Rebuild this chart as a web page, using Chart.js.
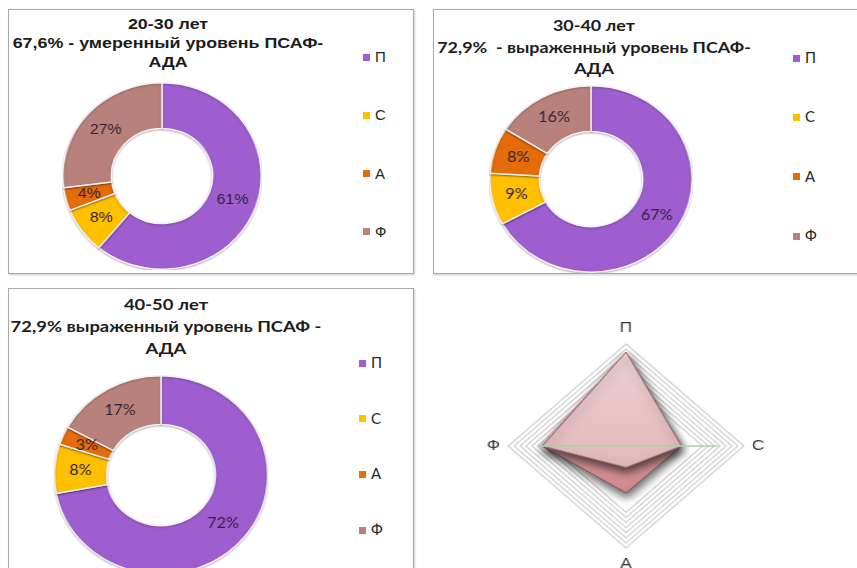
<!DOCTYPE html>
<html lang="ru">
<head>
<meta charset="utf-8">
<title>ПСАФ-АДА по возрастным группам</title>
<script src="https://cdn.jsdelivr.net/npm/chart.js@4.4.1/dist/chart.umd.min.js"></script>
<style>
    body {
        margin: 0;
        width: 857px;
        height: 568px;
        position: relative;
        overflow: hidden;
        background: #ffffff;
    }
    .panel {
        position: absolute;
        border: 1px solid #a8a8a8;
        box-shadow: 1px 1px 2px rgba(0, 0, 0, 0.2);
        background: #ffffff;
    }
    .title {
        position: absolute;
        text-align: center;
        font-weight: bold;
        color: #1c1c1c;
        white-space: nowrap;
        transform-origin: 50% 50%;
    }
    .legend {
        position: absolute;
        color: #262626;
    }
    .legend .item {
        position: absolute;
        left: 0;
        white-space: nowrap;
    }
    .legend .box {
        display: inline-block;
        width: 7px;
        height: 7px;
        margin-right: 5px;
        vertical-align: middle;
        position: relative;
        top: -1px;
    }
    .wrap {
        position: absolute;
        transform-origin: 50% 50%;
    }
    .arial { font-family: 'Liberation Sans', Arial, sans-serif; }
    .calibri { font-family: Lato, 'Open Sans', sans-serif; }
</style>
</head>
<body>

<!-- 20-30 -->
<div class="panel" style="left:8px; top:9px; width:404px; height:263px;"></div>
<div class="title arial" style="left:8px; top:14px; width:320px; font-size:15px; line-height:19px; transform:scaleX(1.19);">
    20-30 лет<br>67,6% - умеренный уровень ПСАФ-<br>АДА
</div>
<div class="wrap" style="left:68px; top:82px; width:188px; height:188px; transform:scaleX(1.064);">
    <canvas id="donut2030" width="188" height="188"></canvas>
</div>
<div class="legend arial" id="legend1" style="left:363px; top:48px; font-size:15px; line-height:18px;"></div>

<!-- 30-40 -->
<div class="panel" style="left:433px; top:9px; width:430px; height:263px;"></div>
<div class="title calibri" style="left:429px; top:14px; width:330px; font-size:16px; line-height:21.5px; transform:scaleX(1.12);">
    30-40 лет<br>72,9%&nbsp; - выраженный уровень ПСАФ-<br>АДА
</div>
<div class="wrap" style="left:497px; top:85px; width:188px; height:188px; transform:scaleX(1.085);">
    <canvas id="donut3040" width="188" height="188"></canvas>
</div>
<div class="legend calibri" id="legend2" style="left:793px; top:48px; font-size:15px; line-height:18px;"></div>

<!-- 40-50 -->
<div class="panel" style="left:8px; top:288px; width:404px; height:300px;"></div>
<div class="title calibri" style="left:1px; top:293px; width:330px; font-size:16px; line-height:22px; transform:scaleX(1.15);">
    40-50 лет<br>72,9% выраженный уровень ПСАФ -<br>АДА
</div>
<div class="wrap" style="left:61px; top:375px; width:200px; height:200px; transform:scaleX(1.075);">
    <canvas id="donut4050" width="200" height="200"></canvas>
</div>
<div class="legend calibri" id="legend3" style="left:359px; top:353px; font-size:15px; line-height:18px;"></div>

<!-- лепестковая -->
<div class="wrap" style="left:499px; top:319px; width:254px; height:254px; transform:scaleX(1.155);">
    <canvas id="radarAll" width="254" height="254"></canvas>
</div>

<script>
// ------------------------------------------
// Данные
// ------------------------------------------

const categories = ['П', 'С', 'А', 'Ф'];

// доли в процентах по группам
const values2030 = [61, 8, 4, 27];
const values3040 = [67, 9, 8, 16];
const values4050 = [72, 8, 3, 17];

// лепестковая диаграмма (шкала 0-100)
const radarAxes = ['П', 'С', 'А', 'Ф'];
const radarFront = [92, 47, 21, 71];
const radarBack = [92, 47, 46, 71];
const radarRim = [90, 45, 30, 74];
const radarLine = [0, 78, 0, 73];

// ------------------------------------------
// Стили
// ------------------------------------------

const sliceColors = ['#9e5ecf', '#ffc000', '#e46c0a', '#b9817b'];

// ------------------------------------------
// Плагины
// ------------------------------------------

// подписи процентов в центре сегментов
const sliceLabels = {
    id: 'sliceLabels',
    afterDatasetsDraw(chart, args, opts) {
        const ctx = chart.ctx;
        const meta = chart.getDatasetMeta(0);
        const data = chart.data.datasets[0].data;
        ctx.save();
        ctx.font = opts.font;
        ctx.fillStyle = opts.color;
        ctx.textAlign = 'center';
        ctx.textBaseline = 'middle';
        meta.data.forEach(function(arc, i) {
            const p = arc.tooltipPosition();
            ctx.fillText(data[i] + '%', p.x, p.y);
        });
        ctx.restore();
    }
};

// тень под фигурами.
// Filler рисует заливку раньше нашего beforeDatasetDraw, поэтому тень
// для следующего набора ставится заранее, после отрисовки предыдущего.
function setShadow(chart, index, opts) {
    const ctx = chart.ctx;
    const ds = index === undefined ? null : chart.data.datasets[index];
    if (!ds || ds.shadow === false) {
        ctx.shadowColor = 'rgba(0, 0, 0, 0)';
        ctx.shadowBlur = 0;
        ctx.shadowOffsetX = 0;
        ctx.shadowOffsetY = 0;
        return;
    }
    ctx.shadowColor = opts.color;
    ctx.shadowBlur = opts.blur;
    ctx.shadowOffsetX = opts.x;
    ctx.shadowOffsetY = opts.y;
}

const dropShadow = {
    id: 'dropShadow',
    beforeDatasetsDraw(chart, args, opts) {
        const metas = chart.getSortedVisibleDatasetMetas();
        setShadow(chart, metas[metas.length - 1].index, opts);
    },
    afterDatasetDraw(chart, args, opts) {
        const metas = chart.getSortedVisibleDatasetMetas();
        const pos = metas.findIndex(function(m) { return m.index === args.index; });
        const next = pos > 0 ? metas[pos - 1].index : undefined;
        setShadow(chart, next, opts);
    },
    afterDatasetsDraw(chart, args, opts) {
        setShadow(chart, undefined, opts);
    }
};

// ------------------------------------------
// Легенда
// ------------------------------------------

function buildLegend(id, step) {
    const el = document.getElementById(id);
    categories.forEach(function(name, i) {
        const row = document.createElement('div');
        row.className = 'item';
        row.style.top = (i * step) + 'px';
        const box = document.createElement('span');
        box.className = 'box';
        box.style.background = sliceColors[i];
        row.appendChild(box);
        row.appendChild(document.createTextNode(name));
        el.appendChild(row);
    });
}

// ------------------------------------------
// Кольцевые диаграммы
// ------------------------------------------

function createDonut(canvasId, values, labelFont) {
    const ctx = document.getElementById(canvasId).getContext('2d');

    new Chart(ctx, {
        type: 'doughnut',
        data: {
            labels: categories,
            datasets: [{
                data: values,
                backgroundColor: sliceColors,
                borderColor: '#f4f4f4',
                borderWidth: 1.5,
                hoverOffset: 0
            }]
        },
        options: {
            responsive: false,
            animation: false,
            cutout: '51%',
            layout: { padding: 0 },
            plugins: {
                legend: { display: false },
                tooltip: { enabled: false },
                sliceLabels: {
                    font: labelFont,
                    color: '#2e2236'
                },
                dropShadow: {
                    color: 'rgba(0, 0, 0, 0.25)',
                    blur: 2,
                    x: 0,
                    y: 1
                }
            }
        },
        plugins: [dropShadow, sliceLabels]
    });
}

// ------------------------------------------
// Лепестковая диаграмма
// ------------------------------------------

function createRadar(canvasId) {
    const canvas = document.getElementById(canvasId);
    const ctx = canvas.getContext('2d');

    const frontFill = ctx.createLinearGradient(0, 30, 0, 180);
    frontFill.addColorStop(0, '#efd3d5');
    frontFill.addColorStop(1, '#ddb0b3');

    const backFill = ctx.createLinearGradient(0, 110, 0, 180);
    backFill.addColorStop(0, '#e0a2a6');
    backFill.addColorStop(1, '#cf878c');

    new Chart(ctx, {
        type: 'radar',
        data: {
            labels: radarAxes,
            datasets: [
                {
                    data: radarLine,
                    borderColor: '#a9d3a2',
                    borderWidth: 1.5,
                    backgroundColor: 'rgba(0,0,0,0)',
                    fill: false,
                    pointRadius: 0,
                    shadow: false
                },
                {
                    data: radarFront,
                    borderColor: '#9a7072',
                    borderWidth: 1,
                    backgroundColor: frontFill,
                    fill: true,
                    pointRadius: 0
                },
                {
                    data: radarBack,
                    borderColor: '#7e5458',
                    borderWidth: 1,
                    backgroundColor: backFill,
                    fill: true,
                    pointRadius: 0
                },
                {
                    data: radarRim,
                    borderColor: '#e9c4c6',
                    borderWidth: 1,
                    backgroundColor: '#f1d9da',
                    fill: true,
                    pointRadius: 0,
                    shadow: false
                }
            ]
        },
        options: {
            responsive: false,
            animation: false,
            plugins: {
                legend: { display: false },
                tooltip: { enabled: false },
                dropShadow: {
                    color: 'rgba(0, 0, 0, 0.6)',
                    blur: 9,
                    x: 1,
                    y: 5
                }
            },
            scales: {
                r: {
                    min: 0,
                    max: 100,
                    ticks: { display: false, stepSize: 5 },
                    angleLines: { display: false },
                    grid: {
                        lineWidth: 1.2,
                        color: function(c) {
                            return c.tick && c.tick.value >= 65 ? '#cfcfcf' : 'rgba(0,0,0,0)';
                        }
                    },
                    pointLabels: {
                        display: true,
                        padding: 7,
                        color: '#333333',
                        font: { size: 15, family: "'Liberation Sans', Arial, sans-serif" }
                    }
                }
            }
        },
        plugins: [dropShadow]
    });
}

// ------------------------------------------
// Инициализация
// ------------------------------------------

buildLegend('legend1', 58.3);
buildLegend('legend2', 59.3);
buildLegend('legend3', 55.7);

createDonut('donut2030', values2030, "15px 'Liberation Sans', Arial, sans-serif");
createDonut('donut3040', values3040, "15px Lato, 'Open Sans', sans-serif");
createDonut('donut4050', values4050, "15px Lato, 'Open Sans', sans-serif");
createRadar('radarAll');
</script>
</body>
</html>
